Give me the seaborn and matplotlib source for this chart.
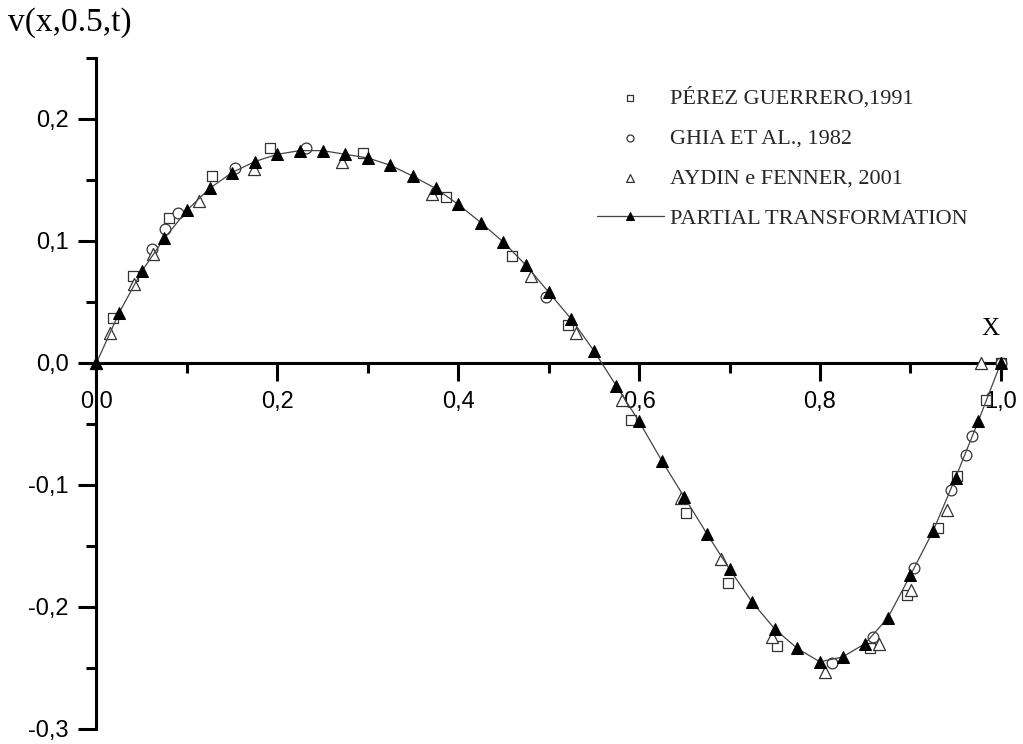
import numpy as np
import pandas as pd
import matplotlib
matplotlib.use("Agg")
import matplotlib.pyplot as plt
import seaborn as sns
from matplotlib.ticker import MultipleLocator, FuncFormatter

# ---- data ----
perez_x = [0.0186, 0.040, 0.080, 0.128, 0.192, 0.295, 0.386, 0.460, 0.521, 0.591,
           0.652, 0.698, 0.752, 0.855, 0.896, 0.931, 0.952, 0.9836, 1.0]
perez_v = [0.037, 0.0716, 0.119, 0.1535, 0.176, 0.1724, 0.1358, 0.0877, 0.031, -0.0467,
           -0.123, -0.180, -0.232, -0.234, -0.190, -0.1355, -0.0926, -0.030, 0.0]

ghia_x = [0.061, 0.0757, 0.090, 0.153, 0.2315, 0.4967, 0.8135, 0.859, 0.9044, 0.945,
          0.961, 0.968, 1.0]
ghia_v = [0.0934, 0.1096, 0.123, 0.160, 0.176, 0.0544, -0.246, -0.225, -0.168, -0.104,
          -0.0754, -0.060, 0.0]

aydin_x = [0.0, 0.015, 0.041, 0.062, 0.1136, 0.174, 0.272, 0.3715, 0.481, 0.530, 0.581,
           0.6466, 0.691, 0.747, 0.806, 0.865, 0.901, 0.9405, 0.978]
aydin_v = [0.0, 0.0248, 0.065, 0.089, 0.133, 0.159, 0.165, 0.1385, 0.0713, 0.0249, -0.030,
           -0.111, -0.161, -0.2249, -0.253, -0.230, -0.186, -0.1205, 0.0]

partial_x = [0.000, 0.025, 0.050, 0.075, 0.100, 0.125, 0.150, 0.175, 0.200, 0.225,
             0.250, 0.275, 0.300, 0.325, 0.350, 0.375, 0.400, 0.425, 0.450, 0.475,
             0.500, 0.525, 0.550, 0.575, 0.600, 0.625, 0.650, 0.675, 0.700, 0.725,
             0.750, 0.775, 0.800, 0.825, 0.850, 0.875, 0.900, 0.925, 0.950, 0.975, 1.000]
partial_v = [0.000, 0.041, 0.075, 0.102, 0.125, 0.143, 0.156, 0.165, 0.171, 0.174,
             0.174, 0.171, 0.168, 0.162, 0.153, 0.143, 0.130, 0.115, 0.099, 0.080,
             0.058, 0.036, 0.010, -0.019, -0.048, -0.080, -0.110, -0.140, -0.169, -0.196,
             -0.218, -0.234, -0.245, -0.241, -0.230, -0.209, -0.174, -0.138, -0.094, -0.048, 0.000]

labels = ["PÉREZ GUERRERO,1991", "GHIA ET AL., 1982", "AYDIN e FENNER, 2001",
          "PARTIAL TRANSFORMATION"]
y_label = "v(x,0.5,t)"
x_label = "X"

# ---- style ----
sns.set_style("ticks")
plt.rcParams["font.family"] = ["Liberation Sans", "DejaVu Sans"]

fig = plt.figure(figsize=(10.23, 7.44), dpi=100)
ax = fig.add_axes([0.0943, 0.0202, 0.884, 0.902])

edge = "#333333"
sns.scatterplot(x=perez_x, y=perez_v, marker="s", s=55, facecolor="white",
                edgecolor=edge, linewidth=0.9, label=labels[0], ax=ax,
                clip_on=False, zorder=3)
sns.scatterplot(x=ghia_x, y=ghia_v, marker="o", s=60, facecolor="white",
                edgecolor=edge, linewidth=0.9, label=labels[1], ax=ax,
                clip_on=False, zorder=3)
sns.scatterplot(x=aydin_x, y=aydin_v, marker="^", s=75, facecolor="white",
                edgecolor=edge, linewidth=0.9, label=labels[2], ax=ax,
                clip_on=False, zorder=3)
sns.lineplot(x=partial_x, y=partial_v, marker="^", markersize=9, color="#444444",
             markerfacecolor="black", markeredgecolor="black", linewidth=0.9,
             label=labels[3], ax=ax, clip_on=False, zorder=4, estimator=None, sort=False)

ax.set_xlim(0, 1.0)
ax.set_ylim(-0.3, 0.25)

for s in ["top", "right"]:
    ax.spines[s].set_visible(False)
ax.spines["bottom"].set_position(("data", 0))
for s in ["left", "bottom"]:
    ax.spines[s].set_linewidth(2.2)
    ax.spines[s].set_color("black")

ax.xaxis.set_major_locator(MultipleLocator(0.2))
ax.xaxis.set_minor_locator(MultipleLocator(0.1))
ax.yaxis.set_major_locator(MultipleLocator(0.1))
ax.yaxis.set_minor_locator(MultipleLocator(0.05))

def fmt(v, pos):
    if abs(v) < 1e-9:
        v = 0.0
    return f"{v:.1f}".replace(".", ",")

ax.xaxis.set_major_formatter(FuncFormatter(fmt))
ax.yaxis.set_major_formatter(FuncFormatter(fmt))

ax.tick_params(which="major", direction="out", length=13, width=2.2,
               labelsize=17, colors="black")
ax.tick_params(which="minor", direction="out", length=7, width=2.2, colors="black")
ax.tick_params(axis="x", which="major", pad=7)
ax.tick_params(axis="y", which="major", pad=7)
ax.set_xlabel("")
ax.set_ylabel("")

fig.text(8 / 1023, 1 - 7 / 744, y_label, ha="left", va="top",
         fontsize=24, family="Liberation Serif", color="black")
ax.text(990 / 1023, 1 - 329 / 744, x_label, transform=fig.transFigure,
        ha="center", va="center", fontsize=18, family="Liberation Serif", color="black")

h, l = ax.get_legend_handles_labels()
leg = ax.legend(h, l, loc="upper left", bbox_to_anchor=(597 / 1023, 1 - 87 / 744),
                bbox_transform=fig.transFigure, frameon=False,
                prop={"family": "Liberation Serif", "size": 16},
                handlelength=3.0, handletextpad=0.3, labelspacing=0.88,
                markerscale=0.65, borderpad=0, borderaxespad=0)

fig.savefig("out.png", dpi=100, facecolor="white")
